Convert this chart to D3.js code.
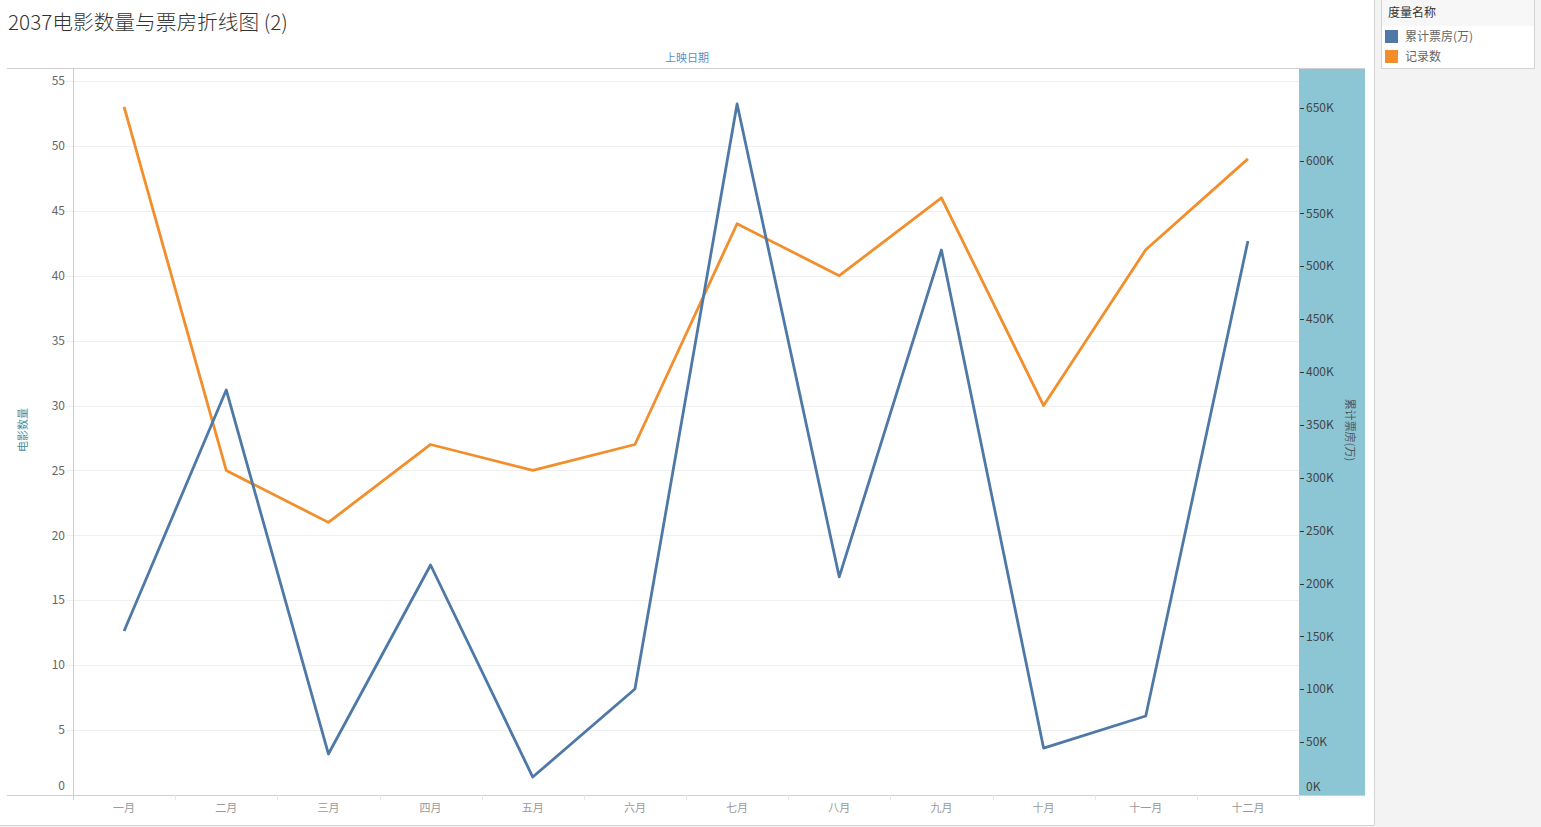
<!DOCTYPE html>
<html><head><meta charset="utf-8">
<script src="https://cdn.jsdelivr.net/npm/d3@7"></script>
<style>
html,body{margin:0;padding:0;background:#f3f3f3;}
svg{display:block;}
</style></head>
<body>
<svg id="c" width="1541" height="827"></svg>
<script>
const months = ["一月","二月","三月","四月","五月","六月","七月","八月","九月","十月","十一月","十二月"];
const recordCount = [53,25,21,27,25,27,44,40,46,30,42,49];
const boxOffice = [155100,383000,38800,217500,17000,100200,653500,206200,515400,44400,74700,523900];
const leftTicks = [0,5,10,15,20,25,30,35,40,45,50,55];
const rightTicks = [0,50000,100000,150000,200000,250000,300000,350000,400000,450000,500000,550000,600000,650000];
const legendItems = ["累计票房(万)","记录数"];
const colors = ["#4e79a7","#f28e2b"];

const svg = d3.select("#c");
const SANS = "'Noto Sans CJK SC','Noto Sans',sans-serif";
const L=73, R=1299, T=68, B=795, BAND_R=1365;

// white panel
svg.append("rect").attr("x",0).attr("y",0).attr("width",1374).attr("height",825).attr("fill","#fff");
svg.append("line").attr("x1",1374.5).attr("x2",1374.5).attr("y1",0).attr("y2",825.5).attr("stroke","#d4d4d4");
svg.append("line").attr("x1",0).attr("x2",1374.5).attr("y1",825.5).attr("y2",825.5).attr("stroke","#d4d4d4");

// title
svg.append("text").attr("x",8).attr("y",30).attr("font-family",SANS).attr("font-size",20.7)
  .attr("fill","#333").attr("font-weight",300).text("2037电影数量与票房折线图 (2)");

const x = d3.scaleBand().domain(months).range([L,R]);
const yL = d3.scaleLinear().domain([0,56]).range([B,T]);
const yR = d3.scaleLinear().domain([0,687500]).range([B,T]);

// right band
svg.append("rect").attr("x",R).attr("y",T).attr("width",BAND_R-R).attr("height",B-T).attr("fill","#8cc5d4");

// gridlines
svg.append("g").selectAll("line").data(leftTicks.filter(d=>d>0)).join("line")
  .attr("x1",66).attr("x2",R).attr("y1",d=>Math.round(yL(d))+0.5).attr("y2",d=>Math.round(yL(d))+0.5)
  .attr("stroke","#efefef");

// left axis labels
svg.append("g").selectAll("text").data(leftTicks).join("text")
  .attr("x",65).attr("y",d=>d===0? yL(d)-9 : yL(d)).attr("dy","0.35em").attr("text-anchor","end")
  .attr("font-family",SANS).attr("font-size",12).attr("fill","#666").text(d=>d);

// borders
svg.append("line").attr("x1",7).attr("x2",BAND_R).attr("y1",T+0.5).attr("y2",T+0.5).attr("stroke","#cfcfcf");
svg.append("line").attr("x1",7).attr("x2",BAND_R).attr("y1",B+0.5).attr("y2",B+0.5).attr("stroke","#cfcfcf");
svg.append("line").attr("x1",L+0.5).attr("x2",L+0.5).attr("y1",T).attr("y2",B+5).attr("stroke","#cfcfcf");
svg.append("line").attr("x1",R+0.5).attr("x2",R+0.5).attr("y1",B).attr("y2",B+5).attr("stroke","#e5e5e5");

// x separators
svg.append("g").selectAll("line").data(months.slice(1)).join("line")
  .attr("x1",d=>Math.round(x(d))+0.5).attr("x2",d=>Math.round(x(d))+0.5).attr("y1",B).attr("y2",B+5)
  .attr("stroke","#e8e8e8");

// x labels
svg.append("g").selectAll("text").data(months).join("text")
  .attr("x",d=>x(d)+x.bandwidth()/2).attr("y",808).attr("dy","0.35em").attr("text-anchor","middle")
  .attr("font-family",SANS).attr("font-size",11).attr("fill","#999").text(d=>d);

// right axis
const rg = svg.append("g");
rg.selectAll("line").data(rightTicks.filter(d=>d>0)).join("line")
  .attr("x1",R+1).attr("x2",R+5).attr("y1",d=>Math.round(yR(d))+0.5).attr("y2",d=>Math.round(yR(d))+0.5)
  .attr("stroke","#333");
rg.selectAll("text").data(rightTicks).join("text")
  .attr("x",R+7).attr("y",d=>d===0? yR(d)-8 : yR(d)).attr("dy","0.35em")
  .attr("font-family",SANS).attr("font-size",12).attr("fill","#444").text(d=>(d/1000)+"K");

// axis titles
svg.append("text").attr("x",687).attr("y",58).attr("dy","0.35em").attr("text-anchor","middle")
  .attr("font-family",SANS).attr("font-size",11).attr("fill","#5b8fc7").text("上映日期");
svg.append("text").attr("transform","translate(23,430) rotate(-90)").attr("dy","0.35em").attr("text-anchor","middle")
  .attr("font-family",SANS).attr("font-size",11).attr("fill","#4e8a9a").text("电影数量");
svg.append("text").attr("transform","translate(1350,430) rotate(90)").attr("dy","0.35em").attr("text-anchor","middle")
  .attr("font-family",SANS).attr("font-size",11).attr("fill","#555").text("累计票房(万)");

// lines
const cx = d=>x(d)+x.bandwidth()/2;
const lineL = d3.line().x((d,i)=>cx(months[i])).y(d=>yL(d));
const lineR = d3.line().x((d,i)=>cx(months[i])).y(d=>yR(d));
svg.append("path").datum(recordCount).attr("d",lineL).attr("fill","none").attr("stroke",colors[1])
  .attr("stroke-width",2.8).attr("stroke-linejoin","round");
svg.append("path").datum(boxOffice).attr("d",lineR).attr("fill","none").attr("stroke",colors[0])
  .attr("stroke-width",2.8).attr("stroke-linejoin","round");

// legend
const lg = svg.append("g");
lg.append("rect").attr("x",1381.5).attr("y",-1).attr("width",153).attr("height",69.5).attr("fill","#fff").attr("stroke","#d4d4d4");
lg.append("rect").attr("x",1382).attr("y",0).attr("width",152).attr("height",26).attr("fill","#f7f7f7");
lg.append("text").attr("x",1388).attr("y",13).attr("dy","0.35em").attr("font-family",SANS).attr("font-size",12)
  .attr("fill","#333").text("度量名称");
lg.selectAll("rect.sw").data(legendItems).join("rect").attr("class","sw")
  .attr("x",1385).attr("y",(d,i)=>30+i*20).attr("width",13).attr("height",13).attr("fill",(d,i)=>colors[i]);
lg.selectAll("text.it").data(legendItems).join("text").attr("class","it")
  .attr("x",1405).attr("y",(d,i)=>37+i*20).attr("dy","0.35em").attr("font-family",SANS).attr("font-size",12)
  .attr("fill","#666").text(d=>d);
</script>
</body></html>
